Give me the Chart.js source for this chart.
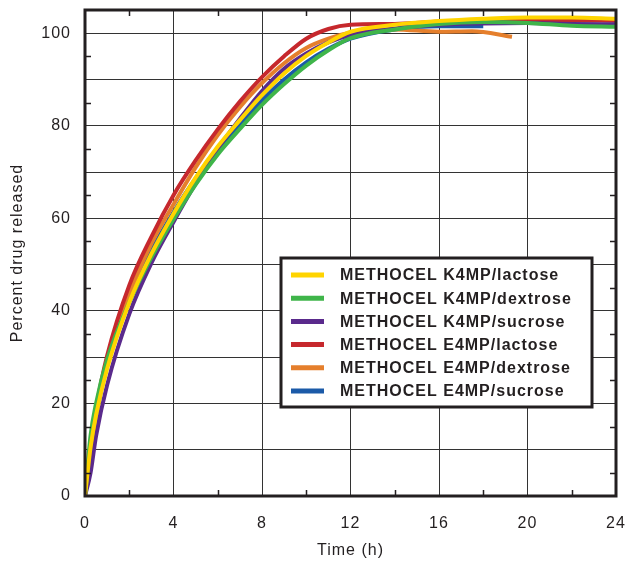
<!DOCTYPE html>
<html lang="en">
<head>
    <meta charset="UTF-8">
    <title>Drug release</title>
    <script src="https://cdn.jsdelivr.net/npm/chart.js"></script>
    <style>
        html, body { margin: 0; padding: 0; background: #fff; }
        #wrap { width: 625px; height: 561px; }
    </style>
</head>
<body>
<div id="wrap"><canvas id="myChart" width="625" height="561"></canvas></div>
<script>
    // data
    var hours = [0, 0.25, 0.5, 1, 2, 3, 4, 5, 6, 7, 8, 9, 10, 11, 12, 14, 16, 18, 20, 22, 24];
    var hoursE4Dextrose = [0, 0.25, 0.5, 1, 2, 3, 4, 5, 6, 7, 8, 9, 10, 11, 12, 14, 16, 17.5, 19.3];

    var k4Lactose  = [0, 10.5, 17.5, 27.5, 41.8, 52.3, 61, 68.8, 75.5, 81.2, 86.6, 91.3, 95.1, 98, 100.3, 101.8, 102.6, 103.1, 103.4, 103.4, 103.1];
    var k4Dextrose = [0, 13, 20, 29.5, 41.8, 51.5, 59.8, 67.3, 73.8, 79.3, 84.5, 89, 93, 96.3, 98.9, 100.8, 102, 102.4, 102.2, 101.6, 101.4];
    var k4Sucrose  = [0, 5, 13, 24, 39.3, 50.3, 59.2, 67.5, 75, 81.5, 87.5, 92.3, 95.6, 98, 99.6, 101, 101.8, 102.1, 102.2, 102, 101.9];
    var e4Lactose  = [0, 10.8, 18.8, 30.3, 45.5, 56, 65, 72.5, 79.2, 85.2, 90.5, 95, 98.8, 100.9, 101.8, 102, 102.5, 102.7, 102.8, 102.8, 102.7];
    var e4Dextrose = [0, 9, 17.5, 29, 43.5, 54.5, 63, 71, 78, 84, 89.2, 93.5, 96.8, 98.8, 100.1, 100.8, 100.3, 100.4, 99.2];
    var e4Sucrose  = [0, 9, 17, 28.5, 42.5, 53, 61.3, 68.6, 74.8, 80.3, 85.5, 90, 93.7, 96.6, 98.8, 100.8, 101.5, 101.5, null, null, null];

    var seriesNames = ['METHOCEL K4MP/lactose', 'METHOCEL K4MP/dextrose', 'METHOCEL K4MP/sucrose',
                       'METHOCEL E4MP/lactose', 'METHOCEL E4MP/dextrose', 'METHOCEL E4MP/sucrose'];
    var seriesColors = ['#FFD400', '#3FB54A', '#5A2A8C', '#C6282D', '#E57F2C', '#1B5AA8'];

    var xTickLabels = [0, 4, 8, 12, 16, 20, 24];
    var yTickLabels = [0, 20, 40, 60, 80, 100];

    function toPoints(xs, ys) {
        var pts = [];
        for (var i = 0; i < xs.length; i++) {
            if (ys[i] !== null) pts.push({ x: xs[i], y: ys[i] });
        }
        return pts;
    }

    var allValues = [k4Lactose, k4Dextrose, k4Sucrose, e4Lactose, e4Dextrose, e4Sucrose];
    var datasets = allValues.map(function (vals, i) {
        return {
            label: seriesNames[i],
            data: toPoints(i === 4 ? hoursE4Dextrose : hours, vals),
            borderColor: seriesColors[i],
            backgroundColor: seriesColors[i],
            borderWidth: 4,
            pointRadius: 0,
            fill: false,
            cubicInterpolationMode: 'monotone'
        };
    });

    var FONT = '"Liberation Sans", Arial, Helvetica, sans-serif';
    var INK = '#231f20';

    // the printed figure uses wide letter spacing
    var spacing = {
        id: 'spacing',
        beforeLayout: function (chart) { chart.ctx.letterSpacing = '1px'; },
        beforeDraw: function (chart) { chart.ctx.letterSpacing = '1px'; }
    };

    // small inside ticks, frame and boxed legend
    var extras = {
        id: 'extras',
        afterDatasetsDraw: function (chart) {
            var ctx = chart.ctx, a = chart.chartArea;
            var xs = chart.scales.x, ys = chart.scales.y;
            ctx.save();
            ctx.strokeStyle = INK;
            ctx.lineWidth = 1.5;
            ctx.beginPath();
            [2, 6, 10, 14, 18, 22].forEach(function (t) {
                var px = Math.round(xs.getPixelForValue(t)) + 0.5;
                ctx.moveTo(px, a.bottom); ctx.lineTo(px, a.bottom - 6);
                ctx.moveTo(px, a.top); ctx.lineTo(px, a.top + 6);
            });
            for (var v = 5; v <= 95; v += 10) {
                var py = Math.round(ys.getPixelForValue(v)) + 0.5;
                ctx.moveTo(a.left, py); ctx.lineTo(a.left + 6, py);
                ctx.moveTo(a.right, py); ctx.lineTo(a.right - 6, py);
            }
            ctx.stroke();

            // frame
            ctx.lineWidth = 3;
            ctx.strokeRect(a.left, a.top, a.right - a.left, a.bottom - a.top);

            // legend box
            var bx = 281, by = 258, bw = 311, bh = 149;
            ctx.fillStyle = '#fff';
            ctx.fillRect(bx, by, bw, bh);
            ctx.lineWidth = 3;
            ctx.strokeRect(bx, by, bw, bh);
            ctx.font = 'bold 16px ' + FONT;
            ctx.letterSpacing = '1px';
            ctx.textBaseline = 'middle';
            chart.data.datasets.forEach(function (ds, i) {
                var y = 275 + i * 23.2;
                ctx.strokeStyle = ds.borderColor;
                ctx.lineWidth = 5;
                ctx.beginPath();
                ctx.moveTo(291, y); ctx.lineTo(324, y);
                ctx.stroke();
                ctx.fillStyle = INK;
                ctx.fillText(ds.label, 340, y + 1);
            });
            ctx.restore();
        }
    };

    var ctx = document.getElementById('myChart').getContext('2d');
    var myChart = new Chart(ctx, {
        type: 'line',
        data: { datasets: datasets },
        plugins: [spacing, extras],
        options: {
            responsive: false,
            animation: false,
            layout: { padding: { top: 10, right: 9, left: 0, bottom: 0 } },
            plugins: {
                legend: { display: false },
                tooltip: { enabled: false }
            },
            scales: {
                x: {
                    type: 'linear',
                    min: 0,
                    max: 24,
                    afterFit: function (s) {
                        s.height = 65;
                        s.paddingLeft = 0;
                        s.paddingRight = 0;
                    },
                    afterBuildTicks: function (s) {
                        s.ticks = xTickLabels.map(function (v) { return { value: v }; });
                    },
                    border: { display: false },
                    grid: { color: '#333', lineWidth: 1, drawTicks: false },
                    ticks: { padding: 18, color: INK, font: { family: FONT, size: 16 } },
                    title: {
                        display: true, text: 'Time (h)', color: INK,
                        font: { family: FONT, size: 16 }, padding: { top: 1, bottom: 1 }
                    }
                },
                y: {
                    min: 0,
                    max: 105,
                    afterFit: function (s) {
                        s.width = 85;
                        s.paddingTop = 0;
                        s.paddingBottom = 0;
                    },
                    afterBuildTicks: function (s) {
                        var t = [];
                        for (var v = 0; v <= 100; v += 10) t.push({ value: v });
                        s.ticks = t;
                    },
                    border: { display: false },
                    grid: { color: '#333', lineWidth: 1, drawTicks: false },
                    ticks: {
                        padding: 14, color: INK, font: { family: FONT, size: 16 },
                        callback: function (v) { return yTickLabels.indexOf(v) >= 0 ? v : ''; }
                    },
                    title: {
                        display: true, text: 'Percent drug released', color: INK,
                        font: { family: FONT, size: 16 }, padding: { top: 8, bottom: 8 }
                    }
                }
            }
        }
    });
</script>
</body>
</html>
